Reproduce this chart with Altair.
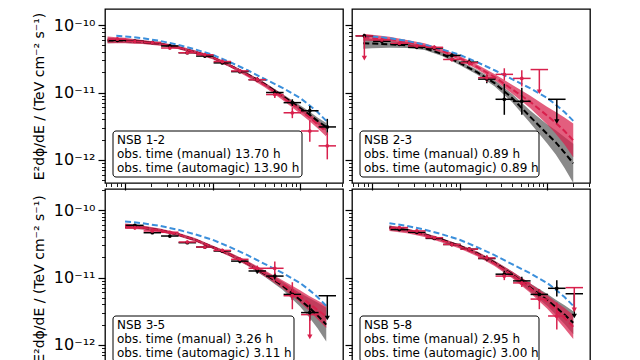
import altair as alt
import pandas as pd

# ---------------- values ----------------
bin_energy = [0.0817, 0.1294, 0.205, 0.325, 0.515, 0.817, 1.294, 2.05, 3.25, 5.15, 8.17, 12.94, 20.5]
bin_edges = [0.0649, 0.1028, 0.163, 0.258, 0.409, 0.649, 1.028, 1.63, 2.58, 4.09, 6.49, 10.28, 16.3, 25.8]
curve_energy = [0.0631, 0.0794, 0.1, 0.126, 0.158, 0.251, 0.398, 0.631, 1.0, 1.585, 2.512,
                3.981, 6.31, 10.0, 12.59, 15.85, 19.95]
reference_flux = [None, 6.92e-11, 6.76e-11, 6.61e-11, 6.38e-11, 5.82e-11, 5.13e-11, 4.37e-11, 3.63e-11,
                  2.82e-11, 2.14e-11, 1.58e-11, 1.17e-11, 8.32e-12, 6.61e-12, 5.13e-12, 3.80e-12]

nsb_labels = ["NSB 1-2", "NSB 2-3", "NSB 3-5", "NSB 5-8"]
obs_time_manual = ["13.70", "0.89", "3.26", "2.95"]
obs_time_automagic = ["13.90", "0.89", "3.11", "3.00"]

N = None
# ---- panel 1 (NSB 1-2)
p1_manual_flux = [5.93e-11, 5.79e-11, 5.50e-11, 4.90e-11, 3.89e-11, 3.47e-11, 2.75e-11, 2.04e-11, 1.55e-11, 1.00e-11, 7.08e-12, 5.37e-12, 3.09e-12]
p1_manual_err = [0.02, 0.015, 0.015, 0.015, 0.02, 0.02, 0.02, 0.025, 0.03, 0.04, 0.05, 0.07, 0.12]
p1_manual_ul = []
p1_auto_flux = [6.17e-11, 5.75e-11, 5.50e-11, 4.57e-11, 3.89e-11, 3.63e-11, 2.88e-11, 2.09e-11, 1.55e-11, 9.33e-12, 5.01e-12, 2.69e-12, 1.62e-12]
p1_auto_err = [0.03, 0.02, 0.02, 0.02, 0.02, 0.025, 0.03, 0.03, 0.04, 0.05, 0.08, 0.16, 0.2]
p1_auto_ul = []
p1_fit_manual = [5.89e-11, 5.89e-11, 5.82e-11, 5.75e-11, 5.62e-11, 5.25e-11, 4.68e-11, 3.98e-11, 3.31e-11, 2.51e-11, 1.86e-11, 1.32e-11, 8.91e-12, 5.89e-12, 4.79e-12, 3.80e-12, 3.09e-12]
p1_band_manual = [0.04, 0.035, 0.03, 0.03, 0.025, 0.02, 0.02, 0.02, 0.02, 0.02, 0.02, 0.025, 0.03, 0.04, 0.045, 0.05, 0.06]
p1_fit_auto = [6.03e-11, 5.96e-11, 5.89e-11, 5.75e-11, 5.62e-11, 5.25e-11, 4.68e-11, 3.98e-11, 3.31e-11, 2.51e-11, 1.82e-11, 1.29e-11, 8.51e-12, 5.50e-12, 4.37e-12, 3.39e-12, 2.63e-12]
p1_band_auto = [0.05, 0.045, 0.04, 0.035, 0.03, 0.025, 0.025, 0.025, 0.025, 0.025, 0.03, 0.035, 0.04, 0.05, 0.055, 0.06, 0.07]

# ---- panel 2 (NSB 2-3)
p2_manual_flux = [6.92e-11, 5.75e-11, 5.18e-11, 4.68e-11, 4.57e-11, 3.55e-11, 2.82e-11, 1.58e-11, 7.94e-12, 7.41e-12, N, 7.94e-12, N]
p2_manual_err = [0.03, 0.02, 0.02, 0.02, 0.025, 0.03, 0.04, 0.06, 0.23, 0.2, N, N, N]
p2_manual_ul = [11]
p2_auto_flux = [6.92e-11, 6.03e-11, 5.37e-11, 4.90e-11, 4.68e-11, 3.09e-11, 2.75e-11, 1.66e-11, 1.86e-11, 1.62e-11, 2.19e-11, N, N]
p2_auto_err = [N, 0.02, 0.02, 0.02, 0.03, 0.03, 0.04, 0.06, 0.09, 0.12, N, N, N]
p2_auto_ul = [0, 10]
p2_fit_manual = [N, 5.37e-11, 5.31e-11, 5.25e-11, 5.19e-11, 5.01e-11, 4.57e-11, 3.72e-11, 2.75e-11, 2.00e-11, 1.38e-11, 8.32e-12, 4.47e-12, 2.45e-12, 1.82e-12, 1.29e-12, 8.91e-13]
p2_band_manual = [N, 0.08, 0.07, 0.06, 0.05, 0.04, 0.03, 0.03, 0.03, 0.035, 0.045, 0.06, 0.09, 0.14, 0.18, 0.23, 0.29]
p2_fit_auto = [N, 6.61e-11, 6.46e-11, 6.31e-11, 6.17e-11, 5.62e-11, 5.01e-11, 4.17e-11, 3.24e-11, 2.40e-11, 1.70e-11, 1.12e-11, 7.41e-12, 4.57e-12, 3.55e-12, 2.69e-12, 1.95e-12]
p2_band_auto = [N, 0.05, 0.045, 0.04, 0.035, 0.03, 0.03, 0.03, 0.03, 0.035, 0.045, 0.065, 0.09, 0.13, 0.16, 0.2, 0.25]

# ---- panel 3 (NSB 3-5)
p3_manual_flux = [N, 5.93e-11, 4.61e-11, 4.12e-11, 3.28e-11, 2.83e-11, 2.47e-11, 1.75e-11, 1.25e-11, 1.05e-11, 5.62e-12, 3.02e-12, 5.37e-12]
p3_manual_err = [N, 0.02, 0.02, 0.02, 0.02, 0.02, 0.025, 0.03, 0.04, 0.05, 0.08, 0.12, N]
p3_manual_ul = [12]
p3_auto_flux = [N, 5.47e-11, 4.90e-11, 4.68e-11, 3.36e-11, 2.83e-11, 2.52e-11, 1.86e-11, 1.37e-11, 1.37e-11, 5.37e-12, 2.82e-12, N]
p3_auto_err = [N, 0.03, 0.02, 0.02, 0.02, 0.02, 0.025, 0.03, 0.04, 0.1, 0.2, N, N]
p3_auto_ul = [11]
p3_fit_manual = [N, N, 5.75e-11, 5.69e-11, 5.50e-11, 5.01e-11, 4.37e-11, 3.63e-11, 2.82e-11, 2.19e-11, 1.62e-11, 1.12e-11, 7.59e-12, 4.68e-12, 3.63e-12, 2.75e-12, 2.00e-12]
p3_band_manual = [N, N, 0.035, 0.03, 0.025, 0.02, 0.02, 0.02, 0.02, 0.025, 0.03, 0.04, 0.06, 0.1, 0.14, 0.19, 0.25]
p3_fit_auto = [N, N, 5.75e-11, 5.69e-11, 5.50e-11, 5.01e-11, 4.37e-11, 3.63e-11, 2.82e-11, 2.19e-11, 1.62e-11, 1.15e-11, 7.94e-12, 5.25e-12, 4.17e-12, 3.31e-12, 2.63e-12]
p3_band_auto = [N, N, 0.04, 0.035, 0.03, 0.025, 0.025, 0.025, 0.025, 0.03, 0.035, 0.045, 0.06, 0.09, 0.11, 0.14, 0.17]

# ---- panel 4 (NSB 5-8)
p4_manual_flux = [N, N, 5.13e-11, 4.68e-11, 3.80e-11, 3.09e-11, 2.63e-11, 1.91e-11, 1.12e-11, 8.91e-12, 5.62e-12, 6.92e-12, 5.75e-12]
p4_manual_err = [N, N, 0.02, 0.02, 0.02, 0.02, 0.03, 0.04, 0.05, 0.06, 0.08, 0.12, N]
p4_manual_ul = [12]
p4_auto_flux = [N, N, 5.50e-11, 4.90e-11, 3.89e-11, 3.09e-11, 2.63e-11, 1.95e-11, 1.05e-11, 8.32e-12, 4.79e-12, 2.69e-12, 7.08e-12]
p4_auto_err = [N, N, 0.02, 0.02, 0.02, 0.03, 0.03, 0.04, 0.06, 0.06, 0.15, 0.2, N]
p4_auto_ul = [12]
p4_fit_manual = [N, N, N, N, 5.50e-11, 5.01e-11, 4.37e-11, 3.63e-11, 2.95e-11, 2.29e-11, 1.66e-11, 1.12e-11, 7.24e-12, 4.68e-12, 3.63e-12, 2.82e-12, 2.14e-12]
p4_band_manual = [N, N, N, N, 0.03, 0.025, 0.02, 0.02, 0.02, 0.025, 0.03, 0.04, 0.06, 0.09, 0.11, 0.14, 0.17]
p4_fit_auto = [N, N, N, N, 5.37e-11, 4.90e-11, 4.27e-11, 3.55e-11, 2.88e-11, 2.24e-11, 1.62e-11, 1.10e-11, 7.08e-12, 4.37e-12, 3.31e-12, 2.51e-12, 1.86e-12]
p4_band_auto = [N, N, N, N, 0.04, 0.035, 0.03, 0.03, 0.03, 0.035, 0.04, 0.05, 0.07, 0.1, 0.12, 0.15, 0.18]

# axis ticks
x_tick_values = [0.06, 0.07, 0.08, 0.09, 0.1, 0.2, 0.3, 0.4, 0.5, 0.6, 0.7, 0.8, 0.9,
                 1, 2, 3, 4, 5, 6, 7, 8, 9, 10, 20, 30]
y_tick_values = [5e-13, 6e-13, 7e-13, 8e-13, 9e-13,
                 1e-12, 2e-12, 3e-12, 4e-12, 5e-12, 6e-12, 7e-12, 8e-12, 9e-12,
                 1e-11, 2e-11, 3e-11, 4e-11, 5e-11, 6e-11, 7e-11, 8e-11, 9e-11,
                 1e-10, 2e-10]
y_major_values = [1e-12, 1e-11, 1e-10]
y_major_labels = ["10⁻¹²", "10⁻¹¹", "10⁻¹⁰"]
y_title = "E²dϕ/dE / (TeV cm⁻² s⁻¹)"

# ---------------- styling ----------------
RED = "#d8204c"
BLUE = "#3b8fdb"
GRAY = "#8a8a8a"
FONT = "DejaVu Sans"
X_DOMAIN = [0.059, 31.0]
Y_DOMAIN_TOP_ROW = [4.56e-13, 1.73e-10]
Y_DOMAIN_BOTTOM_ROW = [4.56e-13, 2.05e-10]
W = 238
H_TOP, H_BOTTOM = 174, 179
ARROW_DEX = 0.33
BOX_W = [189, 179, 181, 179]

MAJOR_TEST = "abs(log(datum.value)/LN10 - round(log(datum.value)/LN10)) < 0.001"


def label_expr(values, labels):
    expr = "''"
    for v, lab in zip(values, labels):
        expr = f"abs(datum.value / {v} - 1) < 0.001 ? '{lab}' : ({expr})"
    return expr


def tick_props():
    return dict(
        tickSize={"condition": {"test": MAJOR_TEST, "value": 7}, "value": 3.5},
        tickWidth={"condition": {"test": MAJOR_TEST, "value": 1.2}, "value": 0.9},
        tickColor="black", domain=False, grid=False,
    )


def x_enc(field):
    axis = alt.Axis(values=x_tick_values, labels=False, title=None, **tick_props())
    return alt.X(field, type="quantitative",
                 scale=alt.Scale(type="log", domain=X_DOMAIN, nice=False, zero=False),
                 axis=axis)


def y_enc(field, show_labels, domain):
    ticks = [v for v in y_tick_values if domain[0] <= v <= domain[1]]
    if show_labels:
        axis = alt.Axis(values=ticks, labels=True,
                        labelExpr=label_expr(y_major_values, y_major_labels),
                        labelFont=FONT, labelFontSize=16, labelColor="black", labelPadding=3,
                        title=y_title, titleFont=FONT, titleFontSize=14,
                        titleFontWeight="normal", titleColor="black", titlePadding=7,
                        **tick_props())
    else:
        axis = alt.Axis(values=ticks, labels=False, title=None, **tick_props())
    return alt.Y(field, type="quantitative",
                 scale=alt.Scale(type="log", domain=domain, nice=False, zero=False),
                 axis=axis)


color_scale = alt.Scale(domain=["manual", "automagic"], range=["black", RED])


def make_panel(k, m_flux, m_err, m_ul, a_flux, a_err, a_ul,
               fit_m, band_m, fit_a, band_a, show_y, domain, height):
    crows = []
    for j, e in enumerate(curve_energy):
        if fit_m[j] is None:
            continue
        crows.append(dict(
            E=e,
            Fm=fit_m[j], Fm_lo=fit_m[j] / 10 ** band_m[j], Fm_hi=fit_m[j] * 10 ** band_m[j],
            Fa=fit_a[j], Fa_lo=fit_a[j] / 10 ** band_a[j], Fa_hi=fit_a[j] * 10 ** band_a[j],
            Fref=reference_flux[j],
        ))
    cdf = pd.DataFrame(crows)

    prows = []
    for series, flux, err, ul in [("manual", m_flux, m_err, m_ul), ("automagic", a_flux, a_err, a_ul)]:
        for i, f in enumerate(flux):
            if f is None:
                continue
            is_ul = i in ul
            prows.append(dict(
                E=bin_energy[i], Elo=bin_edges[i], Ehi=bin_edges[i + 1], F=f,
                Flo=None if is_ul else f / 10 ** err[i],
                Fhi=None if is_ul else f * 10 ** err[i],
                Ftip=f / 10 ** ARROW_DEX if is_ul else None,
                ul=is_ul, series=series,
            ))
    pdf = pd.DataFrame(prows)

    base_c = alt.Chart(cdf)
    gray_band = base_c.mark_area(color=GRAY, opacity=1, clip=True).encode(
        x=x_enc("E"), y=y_enc("Fm_lo", show_y, domain), y2="Fm_hi")
    red_band = base_c.mark_area(color=RED, opacity=0.72, clip=True).encode(
        x="E:Q", y="Fa_lo:Q", y2="Fa_hi:Q")
    black_fit = base_c.mark_line(color="black", strokeDash=[6, 3], strokeWidth=2, clip=True).encode(
        x="E:Q", y="Fm:Q")
    red_fit = base_c.mark_line(color=RED, strokeDash=[6, 3], strokeWidth=2, clip=True).encode(
        x="E:Q", y="Fa:Q")
    ref_line = base_c.mark_line(color=BLUE, strokeDash=[6, 3], strokeWidth=2, clip=True).encode(
        x="E:Q", y="Fref:Q")

    base_p = alt.Chart(pdf)
    col = alt.Color("series:N", scale=color_scale, legend=None)
    hbars = base_p.mark_rule(strokeWidth=1.5, clip=True).encode(
        x="Elo:Q", x2="Ehi:Q", y="F:Q", color=col)
    vbars = base_p.transform_filter("!datum.ul").mark_rule(strokeWidth=1.5, clip=True).encode(
        x="E:Q", y="Flo:Q", y2="Fhi:Q", color=col)
    dots = base_p.transform_filter("!datum.ul").mark_circle(size=14, opacity=1, clip=True).encode(
        x="E:Q", y="F:Q", color=col)
    ul_line = base_p.transform_filter("datum.ul").mark_rule(strokeWidth=1.5, clip=True).encode(
        x="E:Q", y="F:Q", y2="Ftip:Q", color=col)
    ul_head = base_p.transform_filter("datum.ul").mark_point(
        shape="triangle-down", filled=True, size=28, opacity=1, clip=True).encode(
        x="E:Q", y="Ftip:Q", color=col)

    one = alt.Chart(pd.DataFrame({"k": [k]}))
    box_bottom = height - 6
    box = one.mark_rect(fill="white", fillOpacity=0.85, stroke="black", strokeWidth=1,
                        cornerRadius=3).encode(
        x=alt.value(8), x2=alt.value(8 + BOX_W[k]), y=alt.value(box_bottom - 46), y2=alt.value(box_bottom))
    lines = [nsb_labels[k],
             f"obs. time (manual) {obs_time_manual[k]} h",
             f"obs. time (automagic) {obs_time_automagic[k]} h"]
    texts = [one.mark_text(align="left", baseline="middle", font=FONT, fontSize=12,
                           color="black").encode(
        x=alt.value(12), y=alt.value(box_bottom - 37 + 14 * n), text=alt.value(t))
        for n, t in enumerate(lines)]

    return alt.layer(gray_band, red_band, black_fit, red_fit, ref_line,
                     hbars, vbars, dots, ul_line, ul_head, box, *texts).properties(width=W, height=height)


p1 = make_panel(0, p1_manual_flux, p1_manual_err, p1_manual_ul, p1_auto_flux, p1_auto_err, p1_auto_ul,
                p1_fit_manual, p1_band_manual, p1_fit_auto, p1_band_auto, True, Y_DOMAIN_TOP_ROW, H_TOP)
p2 = make_panel(1, p2_manual_flux, p2_manual_err, p2_manual_ul, p2_auto_flux, p2_auto_err, p2_auto_ul,
                p2_fit_manual, p2_band_manual, p2_fit_auto, p2_band_auto, False, Y_DOMAIN_TOP_ROW, H_TOP)
p3 = make_panel(2, p3_manual_flux, p3_manual_err, p3_manual_ul, p3_auto_flux, p3_auto_err, p3_auto_ul,
                p3_fit_manual, p3_band_manual, p3_fit_auto, p3_band_auto, True, Y_DOMAIN_BOTTOM_ROW, H_BOTTOM)
p4 = make_panel(3, p4_manual_flux, p4_manual_err, p4_manual_ul, p4_auto_flux, p4_auto_err, p4_auto_ul,
                p4_fit_manual, p4_band_manual, p4_fit_auto, p4_band_auto, False, Y_DOMAIN_BOTTOM_ROW, H_BOTTOM)

chart = alt.concat(p1, p2, p3, p4, columns=2, spacing={"row": 6, "column": 9}, bounds="flush").properties(
    padding={"left": 23, "top": 0, "right": 0, "bottom": 0}
).configure_view(stroke="black", strokeWidth=1.3)

chart.save("out.html", embed_options={"renderer": "svg", "actions": False})
